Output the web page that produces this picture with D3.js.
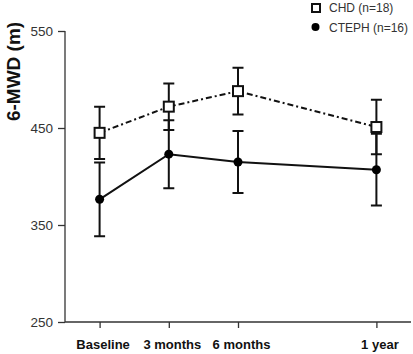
<!DOCTYPE html>
<html>
<head>
<meta charset="utf-8">
<script src="https://cdn.jsdelivr.net/npm/d3@7"></script>
<style>
  body { margin: 0; background: #fff; }
  svg { display: block; }
</style>
</head>
<body>
<div id="vis"></div>
<script>
var months     = [0, 3, 6, 12];
var timeLabels = ['Baseline', '3 months', '6 months', '1 year'];
var yTicks     = [250, 350, 450, 550];

var chdMean    = [445, 472, 488, 451];
var chdErr     = [27, 24, 24, 28];
var ctephMean  = [376.5, 423, 415, 407];
var ctephErr   = [38, 35, 32, 37];

var seriesNames = ['CHD (n=18)', 'CTEPH (n=16)'];

var width  = 413;
var height = 354;

var svg = d3.select('#vis')
  .append('svg')
  .attr('width', width)
  .attr('height', height);

var xScale = d3.scaleLinear()
  .domain([-1.5, 13.5])
  .range([65, 411]);

var yScale = d3.scaleLinear()
  .domain([250, 550])
  .range([322, 31]);

// axes
var xAxis = d3.axisBottom(xScale)
  .tickValues(months)
  .tickSize(6)
  .tickFormat(function(d, i){ return timeLabels[i]; });

var gx = svg.append('g')
  .attr('transform', 'translate(0,' + yScale(250) + ')')
  .call(xAxis);
gx.select('.domain').attr('d', 'M' + xScale(-1.5) + ',0H' + xScale(13.5));
gx.selectAll('text')
  .attr('y', 27)
  .attr('dx', 3)
  .attr('dy', 0)
  .style('font-family', '"Liberation Sans", Arial, sans-serif')
  .style('font-size', '13px')
  .style('font-weight', 'bold')
  .attr('fill', '#111');

var yAxis = d3.axisLeft(yScale)
  .tickValues(yTicks)
  .tickSize(7)
  .tickPadding(5);

var gy = svg.append('g')
  .attr('transform', 'translate(' + xScale(-1.5) + ',0)')
  .call(yAxis);
gy.select('.domain').attr('d', 'M0,' + yScale(550) + 'V' + yScale(250));
gy.selectAll('text')
  .style('font-family', '"Liberation Sans", Arial, sans-serif')
  .style('font-size', '13.5px')
  .attr('fill', '#333');

svg.selectAll('.domain, .tick line')
  .attr('stroke', '#333')
  .attr('stroke-width', 1.3);

// y label
svg.append('text')
  .attr('transform', 'translate(20,' + 71.5 + ') rotate(-90)')
  .attr('text-anchor', 'middle')
  .style('font-family', '"Liberation Sans", Arial, sans-serif')
  .style('font-size', '19px')
  .style('font-weight', 'bold')
  .attr('fill', '#111')
  .text('6-MWD (m)');

function rows(mean, err){
  return months.map(function(m, i){ return {x: m, y: mean[i], e: err[i]}; });
}
var chd   = rows(chdMean, chdErr);
var cteph = rows(ctephMean, ctephErr);

function errorBars(data){
  var g = svg.append('g')
    .attr('stroke', '#111')
    .attr('stroke-width', 2);
  g.selectAll('path')
    .data(data)
    .enter()
    .append('path')
    .attr('fill', 'none')
    .attr('d', function(d){
      var x  = xScale(d.x);
      var y1 = yScale(d.y + d.e);
      var y2 = yScale(d.y - d.e);
      return 'M' + x + ',' + y1 + 'V' + y2 +
             'M' + (x - 5.5) + ',' + y1 + 'H' + (x + 5.5) +
             'M' + (x - 5.5) + ',' + y2 + 'H' + (x + 5.5);
    });
}
errorBars(chd);
errorBars(cteph);

var line = d3.line()
  .x(function(d){ return xScale(d.x); })
  .y(function(d){ return yScale(d.y); });

svg.append('path')
  .attr('d', line(cteph))
  .attr('fill', 'none')
  .attr('stroke', '#111')
  .attr('stroke-width', 2);

svg.append('path')
  .attr('d', line(chd))
  .attr('fill', 'none')
  .attr('stroke', '#111')
  .attr('stroke-width', 2)
  .attr('stroke-dasharray', '6,3,2,3');

svg.selectAll('.ctephDot')
  .data(cteph)
  .enter()
  .append('circle')
  .attr('cx', function(d){ return xScale(d.x); })
  .attr('cy', function(d){ return yScale(d.y); })
  .attr('r', 4.5)
  .attr('fill', '#000');

svg.selectAll('.chdSquare')
  .data(chd)
  .enter()
  .append('rect')
  .attr('x', function(d){ return xScale(d.x) - 5; })
  .attr('y', function(d){ return yScale(d.y) - 5; })
  .attr('width', 10)
  .attr('height', 10)
  .attr('fill', '#fff')
  .attr('stroke', '#111')
  .attr('stroke-width', 2);

// legend
var legend = svg.append('g')
  .style('font-family', '"Liberation Sans", Arial, sans-serif')
  .style('font-size', '12px');

legend.append('rect')
  .attr('x', 312)
  .attr('y', 4)
  .attr('width', 8)
  .attr('height', 8)
  .attr('fill', '#fff')
  .attr('stroke', '#111')
  .attr('stroke-width', 2);

legend.append('circle')
  .attr('cx', 315.5)
  .attr('cy', 27)
  .attr('r', 4)
  .attr('fill', '#000');

legend.selectAll('.legText')
  .data(seriesNames)
  .enter()
  .append('text')
  .attr('x', 329)
  .attr('y', function(d, i){ return 12 + i * 19.5; })
  .attr('fill', '#333')
  .text(function(d){ return d; });
</script>
</body>
</html>
